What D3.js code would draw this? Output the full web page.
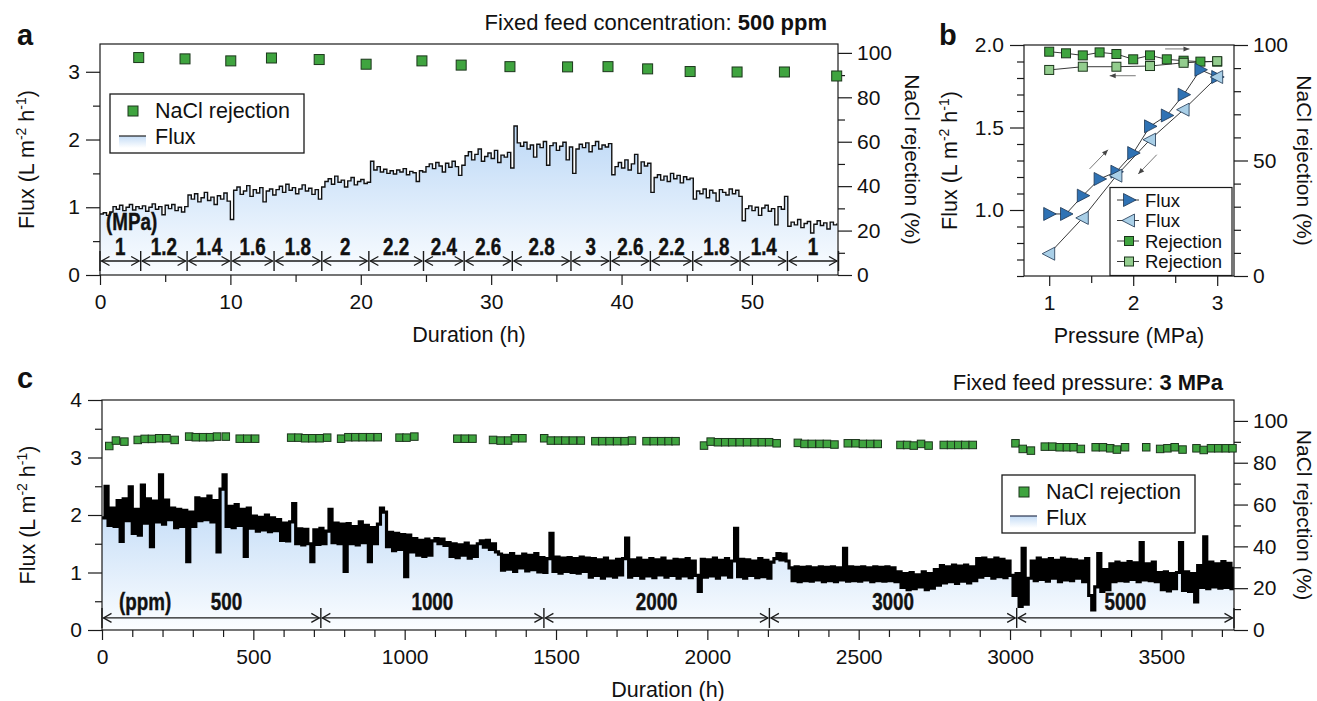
<!DOCTYPE html>
<html>
<head>
<meta charset="utf-8">
<script src="https://cdn.jsdelivr.net/npm/d3@7"></script>
<style>
  body { margin: 0; background: #fff; }
  svg text { font-family: "Liberation Sans", Arial, Helvetica, sans-serif; fill: #111; }
</style>
</head>
<body>
<svg id="chart" width="1317" height="701"></svg>
<script>
// ---------- panel a : fixed feed concentration 500 ppm ----------
const fluxAStep = 0.25; // h between readings
const fluxA = [
  0.90,0.92,0.88,0.93,1.01,0.97,1.03,0.95,1.00,1.04,0.96,1.01,0.98,
  1.02,0.94,1.00,1.05,0.97,1.01,0.89,1.03,0.98,1.04,0.95,1.00,0.93,1.01,
  1.18,1.12,1.20,1.08,1.14,1.22,1.10,1.15,1.04,1.17,1.12,1.21,1.09,0.82,
  1.25,1.30,1.19,1.24,1.32,1.16,1.26,1.21,1.29,1.08,1.24,1.27,1.18,
  1.26,1.31,1.22,1.34,1.25,1.29,1.20,1.27,1.33,1.24,1.28,1.19,1.26,1.12,1.30,
  1.38,1.42,1.34,1.46,1.37,1.40,1.30,1.39,1.44,1.33,1.38,1.41,1.35,1.37,
  1.68,1.55,1.60,1.52,1.56,1.50,1.54,1.49,1.55,1.52,1.57,1.48,1.53,1.51,1.38,1.54,1.52,
  1.60,1.64,1.57,1.66,1.61,1.52,1.65,1.59,1.68,1.60,1.47,1.62,
  1.76,1.82,1.70,1.78,1.86,1.68,1.75,1.80,1.72,1.84,1.66,1.77,1.74,1.81,1.58,
  2.20,1.95,1.90,1.96,1.86,1.92,1.74,1.93,1.88,1.97,1.62,1.91,1.95,1.84,1.90,1.96,1.70,1.89,
  1.50,1.86,1.93,1.88,1.95,1.82,1.91,1.97,1.86,1.92,1.89,1.94,
  1.48,1.60,1.66,1.58,1.70,1.55,1.64,1.78,1.50,1.67,1.61,1.65,
  1.22,1.44,1.48,1.40,1.46,1.38,1.50,1.42,1.47,1.36,1.45,1.41,1.43,
  1.12,1.24,1.20,1.27,1.14,1.25,1.21,1.09,1.26,1.22,1.18,1.27,1.20,1.25,1.16,
  0.80,0.98,1.02,0.95,1.00,0.88,0.99,1.03,0.94,0.98,0.74,1.01,0.97,1.16,
  0.72,0.78,0.74,0.82,0.70,0.76,0.79,0.62,0.75,0.80,0.73,0.77,0.68,0.78,0.74,0.76
];
const rejAHours = [2.97, 6.52, 10.03, 13.15, 16.81, 20.41, 24.69, 27.7, 31.44, 35.86, 38.96, 42.0, 45.26, 48.86, 52.49, 56.5];
const rejA = [97.9, 97.3, 96.4, 97.7, 97.0, 94.9, 96.4, 94.5, 93.8, 93.7, 93.8, 92.8, 91.6, 91.4, 91.4, 89.6];
const pressBounds = [0, 3.12, 6.68, 10.05, 13.35, 17.01, 20.62, 24.81, 27.93, 31.62, 36.12, 39.14, 42.21, 45.46, 49.09, 52.72, 56.64];
const pressLabels = ["1", "1.2", "1.4", "1.6", "1.8", "2", "2.2", "2.4", "2.6", "2.8", "3", "2.6", "2.2", "1.8", "1.4", "1"];
const ticksA = {
  xMajor: [0, 10, 20, 30, 40, 50], xMinor: [5, 15, 25, 35, 45, 55],
  yMajor: [0, 1, 2, 3], yMinor: [0.5, 1.5, 2.5],
  rMajor: [0, 20, 40, 60, 80, 100], rMinor: [10, 30, 50, 70, 90]
};

// ---------- panel b : pressure up / down ----------
const pressUp = [1, 1.2, 1.4, 1.6, 1.8, 2, 2.2, 2.4, 2.6, 2.8, 3];
const fluxUp = [0.976, 0.976, 1.087, 1.188, 1.232, 1.345, 1.507, 1.573, 1.699, 1.85, 1.806];
const rejUp = [97.1, 96.4, 95.5, 96.8, 96.1, 93.8, 95.5, 93.8, 93.2, 92.8, 92.8];
const pressDown = [3, 2.6, 2.2, 1.8, 1.4, 1];
const fluxDown = [1.806, 1.608, 1.426, 1.208, 0.952, 0.735];
const rejDown = [93.0, 92.3, 90.9, 90.6, 90.6, 89.2];
const ticksB = {
  xMajor: [1, 2, 3], xMinor: [1.5, 2.5],
  yMajor: [1.0, 1.5, 2.0], yMinor: [0.6, 0.7, 0.8, 0.9, 1.1, 1.2, 1.3, 1.4, 1.6, 1.7, 1.8, 1.9],
  rMajor: [0, 50, 100], rMinor: [10, 20, 30, 40, 60, 70, 80, 90]
};

// ---------- panel c : fixed feed pressure 3 MPa ----------
const fluxCStep = 10; // h between readings
const fluxC = [
  1.95,2.50,1.82,2.12,1.80,2.25,1.54,2.28,1.90,2.49,
  1.68,2.10,1.65,2.52,1.86,2.28,1.45,2.24,1.88,2.70,
  1.84,2.26,1.92,2.12,1.78,2.10,1.80,2.08,1.19,2.05,
  1.80,2.30,1.90,2.28,1.92,2.33,1.88,2.25,1.36,2.45,
  2.70,1.80,2.15,1.78,2.18,1.82,2.10,1.28,2.12,1.77,
  1.98,1.72,1.96,1.74,2.00,1.71,1.95,1.73,1.92,1.56,
  1.86,1.55,1.88,2.20,1.50,1.76,1.48,1.75,1.50,1.19,
  1.74,1.49,1.77,1.50,1.72,2.10,1.52,1.86,1.50,1.84,
  1.02,1.85,1.50,1.80,1.48,1.88,1.52,1.82,1.19,1.78,
  1.50,1.84,2.12,2.05,1.45,1.70,1.38,1.68,1.40,1.66,
  0.93,1.65,1.36,1.59,1.30,1.56,1.28,1.58,1.30,1.55,
  1.59,1.50,1.58,1.47,1.52,1.28,1.50,1.26,1.48,1.30,
  1.51,1.25,1.46,1.28,1.50,1.55,1.44,1.56,1.40,1.50,
  1.36,1.32,1.04,1.30,1.06,1.33,1.02,1.28,1.08,1.32,
  1.03,1.30,1.05,1.33,1.01,1.26,1.00,1.24,1.68,1.02,
  1.27,0.99,1.25,1.02,1.26,1.00,1.24,0.99,1.27,1.02,
  1.25,0.92,1.24,0.95,1.22,0.90,1.25,0.94,1.20,0.92,
  1.23,0.96,1.24,1.60,0.92,1.22,0.95,1.25,0.90,1.21,
  0.94,1.24,0.91,1.22,0.96,1.25,0.92,1.20,0.95,1.23,
  0.90,1.22,0.94,1.24,0.91,1.20,0.95,0.67,1.23,0.92,
  1.22,0.94,1.25,0.90,1.21,0.96,1.24,0.92,1.20,1.77,
  0.93,1.23,0.90,1.22,0.95,1.20,0.91,1.24,0.93,1.21,
  0.90,1.18,1.24,1.33,1.22,1.32,1.20,1.08,0.86,1.10,
  0.84,1.09,0.86,1.10,0.85,1.08,0.87,1.10,0.84,1.09,
  0.86,1.10,0.84,1.08,0.87,1.42,0.85,1.10,0.86,1.09,
  0.85,1.10,0.87,1.08,0.84,1.10,0.86,1.09,0.85,1.10,
  0.86,1.08,0.84,1.01,0.74,0.98,0.70,1.00,0.72,0.96,
  0.75,1.01,0.70,0.98,0.73,1.05,0.78,1.12,0.82,1.10,
  0.84,1.13,0.81,1.11,0.85,1.13,0.82,1.10,0.86,1.24,
  0.92,1.25,0.95,1.22,0.90,1.25,0.93,1.23,0.91,1.20,
  0.95,0.60,0.98,0.41,1.42,0.45,0.90,1.20,0.86,1.25,
  0.88,1.22,0.85,1.24,0.90,1.21,0.84,1.25,0.87,1.23,
  0.86,1.22,0.90,1.20,0.84,1.24,0.60,0.35,0.75,1.33,
  0.67,1.05,0.70,1.15,0.84,1.18,0.86,1.16,0.85,1.19,
  0.88,1.17,0.84,1.52,0.87,1.15,0.86,1.18,0.84,1.00,
  0.70,1.01,0.68,0.98,0.72,1.00,1.52,0.69,1.01,0.67,
  0.98,0.49,1.12,0.74,1.62,0.72,1.18,0.75,1.15,0.73,
  1.19,0.74,1.16,0.72,1.10
];
const rejCHours = [24, 46, 74, 118, 141, 165, 189, 213, 240, 288, 310, 334, 357, 380, 409, 455, 480, 506,
  625, 649, 671, 695, 719, 744, 790, 814, 837, 861, 886, 911, 983, 1006, 1032, 1174, 1199, 1224,
  1292, 1317, 1342, 1364, 1389, 1461, 1483, 1507, 1531, 1556, 1582, 1630, 1653, 1677, 1702, 1727, 1751,
  1799, 1823, 1848, 1872, 1895, 1989, 2011, 2035, 2059, 2082, 2107, 2131, 2156, 2180, 2204, 2229,
  2299, 2321, 2345, 2371, 2395, 2420, 2464, 2490, 2514, 2538, 2563, 2638, 2660, 2682, 2706, 2731,
  2781, 2805, 2829, 2852, 2877, 3018, 3042, 3069, 3115, 3140, 3164, 3188, 3210, 3234, 3283, 3307,
  3331, 3353, 3380, 3450, 3496, 3520, 3544, 3570, 3616, 3640, 3664, 3688, 3713, 3735];
const rejC = [88.0, 90.6, 90.1, 90.9, 91.4, 91.4, 91.7, 91.7, 90.9, 92.5, 92.2, 92.2, 92.2, 92.5, 92.5, 91.5, 91.5, 91.5,
  92.0, 92.0, 91.7, 91.7, 91.7, 92.0, 91.5, 92.2, 92.2, 92.2, 92.2, 92.2, 92.0, 92.0, 92.5, 91.5, 91.5, 91.5,
  90.9, 90.6, 90.6, 91.7, 91.7, 91.7, 90.6, 90.6, 90.6, 90.6, 90.6, 90.3, 90.3, 90.3, 90.3, 90.3, 90.6,
  90.3, 90.3, 90.3, 90.3, 90.3, 88.2, 90.1, 89.8, 89.8, 89.8, 89.8, 89.8, 89.8, 89.8, 89.8, 89.3,
  89.5, 89.0, 89.0, 89.0, 89.0, 88.7, 89.3, 89.3, 89.0, 89.0, 89.0, 88.5, 88.5, 88.2, 89.0, 88.2,
  88.5, 88.5, 88.5, 88.5, 88.5, 89.3, 86.6, 85.8, 87.7, 87.7, 87.4, 87.4, 87.4, 86.6, 87.4, 87.4,
  86.9, 86.3, 87.4, 87.4, 86.6, 86.9, 87.4, 86.3, 86.9, 86.1, 86.9, 86.9, 86.9, 86.9];
const concBounds = [0, 723, 1460, 2205, 3022, 3740];
const concLabels = ["500", "1000", "2000", "3000", "5000"];
const ticksC = {
  xMajor: [0, 500, 1000, 1500, 2000, 2500, 3000, 3500],
  xMinor: d3.range(100, 3800, 100).filter(v => v % 500 !== 0),
  yMajor: [0, 1, 2, 3, 4], yMinor: [0.5, 1.5, 2.5, 3.5],
  rMajor: [0, 20, 40, 60, 80, 100], rMinor: [10, 30, 50, 70, 90]
};

const GREEN = "#3fa43f", GREEN_LIGHT = "#93cd8e", BLUE = "#2f72b4", BLUE_LIGHT = "#a9cfe7";
const INK = "#1a1a1a";

const svg = d3.select("#chart");
const defs = svg.append("defs");

// scales
const xA = d3.scaleLinear().domain([0, 56.6]).range([100, 838]);
const yA = d3.scaleLinear().domain([0, 3.41]).range([275, 44]);
const yAR = d3.scaleLinear().domain([0, 104]).range([275, 44]);

const xB = d3.scaleLinear().domain([0.7, 3.2]).range([1024, 1234]);
const yB = d3.scaleLinear().domain([0.6, 2.0]).range([276, 45]);
const yBR = d3.scaleLinear().domain([0, 100]).range([276, 45]);

const xC = d3.scaleLinear().domain([0, 3740]).range([102, 1234]);
const yC = d3.scaleLinear().domain([0, 4]).range([630, 400]);
const yCR = d3.scaleLinear().domain([0, 110]).range([630, 400]);

// gradients, markers, clips
function fillGradient(id, yTop, yBottom) {
  const g = defs.append("linearGradient").attr("id", id).attr("gradientUnits", "userSpaceOnUse")
    .attr("x1", 0).attr("x2", 0).attr("y1", yTop).attr("y2", yBottom);
  g.append("stop").attr("offset", 0).attr("stop-color", "#bcd8f6");
  g.append("stop").attr("offset", 1).attr("stop-color", "#fbfdff");
}
fillGradient("gradA", yA(2.2), yA(0));
fillGradient("gradC", yC(2.5), yC(0));
const lg = defs.append("linearGradient").attr("id", "gradLeg").attr("x1", 0).attr("x2", 0).attr("y1", 0).attr("y2", 1);
lg.append("stop").attr("offset", 0).attr("stop-color", "#c4dcf6");
lg.append("stop").attr("offset", 1).attr("stop-color", "#ffffff");

defs.append("marker").attr("id", "chev").attr("viewBox", "-10 -6 12 12")
  .attr("refX", 0).attr("refY", 0).attr("markerWidth", 12).attr("markerHeight", 12)
  .attr("markerUnits", "userSpaceOnUse").attr("orient", "auto-start-reverse")
  .append("path").attr("d", "M-8,-4.5L0,0L-8,4.5").attr("fill", "none").attr("stroke", INK).attr("stroke-width", 1.3);
defs.append("marker").attr("id", "tip").attr("viewBox", "-7 -4 8 8")
  .attr("refX", 0).attr("refY", 0).attr("markerWidth", 8).attr("markerHeight", 8)
  .attr("markerUnits", "userSpaceOnUse").attr("orient", "auto")
  .append("path").attr("d", "M-6,-2.5L0,0L-6,2.5Z").attr("fill", "#444");

function clip(id, x, y) {
  defs.append("clipPath").attr("id", id).append("rect")
    .attr("x", x.range()[0]).attr("y", y.range()[1])
    .attr("width", x.range()[1] - x.range()[0]).attr("height", y.range()[0] - y.range()[1]);
}
clip("clipA", xA, yA);
clip("clipC", xC, yC);

function drawAxes(g, x, y, yR, t) {
  const [xl, xr] = x.range();
  const [yb, yt] = y.range();
  const tidy = sel => {
    sel.select(".domain").remove();
    sel.attr("font-size", 21).attr("font-family", null);
    sel.selectAll("line").attr("stroke", INK).attr("stroke-width", 1.2);
  };
  const put = (axis, tx, ty) => g.append("g").attr("transform", `translate(${tx},${ty})`).call(axis).call(tidy);
  put(d3.axisBottom(x).tickValues(t.xMinor).tickSize(7).tickFormat(""), 0, yb);
  put(d3.axisBottom(x).tickValues(t.xMajor).tickSize(10).tickPadding(9).tickFormat(t.xFmt || d3.format("d")), 0, yb);
  put(d3.axisLeft(y).tickValues(t.yMinor).tickSize(7).tickFormat(""), xl, 0);
  put(d3.axisLeft(y).tickValues(t.yMajor).tickSize(14).tickPadding(6).tickFormat(t.yFmt || d3.format("d")), xl, 0);
  put(d3.axisRight(yR).tickValues(t.rMinor).tickSize(7).tickFormat(""), xr, 0);
  put(d3.axisRight(yR).tickValues(t.rMajor).tickSize(14).tickPadding(5).tickFormat(d3.format("d")), xr, 0);
  g.append("rect").attr("x", xl).attr("y", yt).attr("width", xr - xl).attr("height", yb - yt)
    .attr("fill", "none").attr("stroke", INK).attr("stroke-width", 1.2);
}

function fluxTitle(sel) {
  sel.append("tspan").text("Flux (L m");
  sel.append("tspan").attr("dy", -8).attr("font-size", 14).text("-2");
  sel.append("tspan").attr("dy", 8).text(" h");
  sel.append("tspan").attr("dy", -8).attr("font-size", 14).text("-1");
  sel.append("tspan").attr("dy", 8).text(")");
}

function titles(g, x, y, leftX, rightX, xTitle) {
  const cy = (y.range()[0] + y.range()[1]) / 2;
  g.append("text").attr("transform", `translate(${leftX},${cy}) rotate(-90)`)
    .attr("text-anchor", "middle").attr("font-size", 21.5).call(fluxTitle);
  g.append("text").attr("transform", `translate(${rightX},${cy}) rotate(90)`)
    .attr("text-anchor", "middle").attr("font-size", 21).text("NaCl rejection (%)");
  g.append("text").attr("x", (x.range()[0] + x.range()[1]) / 2).attr("y", y.range()[0] + 67)
    .attr("text-anchor", "middle").attr("font-size", 21.5).text(xTitle);
}

// bold condensed label (bold sans squeezed horizontally)
function narrow(g, x, y, txt, anchor) {
  return g.append("text").attr("transform", `translate(${x},${y}) scale(0.8,1)`)
    .attr("text-anchor", anchor).attr("font-weight", "bold").attr("font-size", 23.5)
    .attr("stroke", "#111").attr("stroke-width", 0.4).text(txt);
}

function spans(g, x, yLine, bounds, labels, lift, firstShift) {
  bounds.forEach(b => g.append("line").attr("x1", x(b)).attr("x2", x(b))
    .attr("y1", yLine - 10).attr("y2", yLine + 10).attr("stroke", INK).attr("stroke-width", 1.4));
  labels.forEach((lab, i) => {
    const a = x(bounds[i]), b = x(bounds[i + 1]);
    g.append("line").attr("x1", a + 1.5).attr("x2", b - 1.5).attr("y1", yLine).attr("y2", yLine)
      .attr("stroke", INK).attr("stroke-width", 1.3)
      .attr("marker-start", "url(#chev)").attr("marker-end", "url(#chev)");
    narrow(g, (a + b) / 2 + (i === 0 ? firstShift : 0), yLine - lift, lab, "middle");
  });
}

function squares(g, xs, ys, x, y, size, fill) {
  g.selectAll(null).data(ys).join("rect")
    .attr("x", (d, i) => x(xs[i]) - size / 2).attr("y", d => y(d) - size / 2)
    .attr("width", size).attr("height", size)
    .attr("fill", fill).attr("stroke", "#1c361c").attr("stroke-width", 1);
}

// ================= panel a =================
const gA = svg.append("g");
const stepAreaA = d3.area().curve(d3.curveStepAfter)
  .x((d, i) => xA(i * fluxAStep)).y0(yA(0)).y1(d => yA(d));
const stepLineA = d3.line().curve(d3.curveStepAfter)
  .x((d, i) => xA(i * fluxAStep)).y(d => yA(d));
gA.append("path").datum(fluxA).attr("clip-path", "url(#clipA)").attr("fill", "url(#gradA)").attr("d", stepAreaA);
gA.append("path").datum(fluxA).attr("clip-path", "url(#clipA)").attr("fill", "none")
  .attr("stroke", "#111").attr("stroke-width", 1.4).attr("d", stepLineA);
drawAxes(gA, xA, yA, yAR, ticksA);
spans(gA, xA, yA(0.207), pressBounds, pressLabels, 6, 0);
narrow(gA, xA(0) + 6, yA(0.207) - 31, "(MPa)", "start");
squares(gA, rejAHours, rejA, xA, yAR, 10, GREEN);
titles(gA, xA, yA, 34, 905, "Duration (h)");

// legend a
gA.append("rect").attr("x", 110).attr("y", 94).attr("width", 194).attr("height", 59)
  .attr("fill", "#fff").attr("stroke", INK).attr("stroke-width", 1.3);
gA.append("rect").attr("x", 128).attr("y", 106).attr("width", 10).attr("height", 10)
  .attr("fill", GREEN).attr("stroke", "#1c361c");
gA.append("text").attr("x", 155).attr("y", 118).attr("font-size", 21.5).text("NaCl rejection");
gA.append("rect").attr("x", 119).attr("y", 136).attr("width", 27).attr("height", 12).attr("fill", "url(#gradLeg)");
gA.append("line").attr("x1", 119).attr("x2", 146).attr("y1", 136).attr("y2", 136).attr("stroke", "#222").attr("stroke-width", 1.2);
gA.append("text").attr("x", 155).attr("y", 144).attr("font-size", 21.5).text("Flux");

const tA = gA.append("text").attr("x", 827).attr("y", 30).attr("text-anchor", "end").attr("font-size", 22);
tA.append("tspan").text("Fixed feed concentration: ");
tA.append("tspan").attr("font-weight", "bold").text("500 ppm");
svg.append("text").attr("x", 17).attr("y", 45).attr("font-size", 29).attr("font-weight", "bold").text("a");

// ================= panel b =================
const gB = svg.append("g");
drawAxes(gB, xB, yB, yBR, Object.assign({ yFmt: d3.format(".1f") }, ticksB));
titles(gB, xB, yB, 957, 1297, "Pressure (MPa)");

const lineB = (xs, ys, y) => d3.line().x((d, i) => xB(xs[i])).y(d => y(d))(ys);
[[pressUp, rejUp, yBR], [pressDown, rejDown, yBR], [pressUp, fluxUp, yB], [pressDown, fluxDown, yB]]
  .forEach(([xs, ys, y]) => gB.append("path").attr("d", lineB(xs, ys, y))
    .attr("fill", "none").attr("stroke", "#222").attr("stroke-width", 0.9));

const triRight = "M-5.5,-6.5L7,0L-5.5,6.5Z";
const triLeft = "M5.5,-6.5L-7,0L5.5,6.5Z";
function triangles(xs, ys, path, fill) {
  gB.selectAll(null).data(ys).join("path").attr("d", path)
    .attr("transform", (d, i) => `translate(${xB(xs[i])},${yB(d)})`)
    .attr("fill", fill).attr("stroke", "#1d3550").attr("stroke-width", 0.8);
}
squares(gB, pressUp, rejUp, xB, yBR, 9, GREEN);
squares(gB, pressDown, rejDown, xB, yBR, 9, GREEN_LIGHT);
triangles(pressUp, fluxUp, triRight, BLUE);
triangles(pressDown, fluxDown, triLeft, BLUE_LIGHT);

// direction arrows
const arrowB = (x1, y1, x2, y2) => gB.append("line").attr("x1", x1).attr("y1", y1).attr("x2", x2).attr("y2", y2)
  .attr("stroke", "#555").attr("stroke-width", 0.8).attr("marker-end", "url(#tip)");
arrowB(xB(2.38), yBR(98.3), xB(2.67), yBR(98.3));
arrowB(xB(2.03), yBR(86.7), xB(1.72), yBR(86.7));
arrowB(xB(1.48), yB(1.249), xB(1.70), yB(1.365));
arrowB(xB(2.28), yB(1.335), xB(2.06), yB(1.218));

// legend b
gB.append("rect").attr("x", 1110).attr("y", 187.5).attr("width", 122).attr("height", 88)
  .attr("fill", "#fff").attr("stroke", INK).attr("stroke-width", 1.2);
const legB = [
  { label: "Flux", kind: "tri", path: triRight, fill: BLUE },
  { label: "Flux", kind: "tri", path: triLeft, fill: BLUE_LIGHT },
  { label: "Rejection", kind: "sq", fill: GREEN },
  { label: "Rejection", kind: "sq", fill: GREEN_LIGHT }
];
legB.forEach((e, i) => {
  const cy = 200 + i * 20.5;
  gB.append("line").attr("x1", 1117).attr("x2", 1139).attr("y1", cy).attr("y2", cy).attr("stroke", "#222").attr("stroke-width", 0.9);
  if (e.kind === "tri") {
    gB.append("path").attr("d", e.path).attr("transform", `translate(1129,${cy})`)
      .attr("fill", e.fill).attr("stroke", "#1d3550").attr("stroke-width", 0.8);
  } else {
    gB.append("rect").attr("x", 1124.5).attr("y", cy - 4.5).attr("width", 9).attr("height", 9)
      .attr("fill", e.fill).attr("stroke", "#1c361c");
  }
  gB.append("text").attr("x", 1145).attr("y", cy + 6.5).attr("font-size", 18.5).text(e.label);
});
svg.append("text").attr("x", 939).attr("y", 45).attr("font-size", 29).attr("font-weight", "bold").text("b");

// ================= panel c =================
const gC = svg.append("g");
const stepAreaC = d3.area().curve(d3.curveStepAfter)
  .x((d, i) => xC(i * fluxCStep)).y0(yC(0)).y1(d => yC(d));
const stepLineC = d3.line().curve(d3.curveStepAfter)
  .x((d, i) => xC(i * fluxCStep)).y(d => yC(d));
gC.append("path").datum(fluxC).attr("clip-path", "url(#clipC)").attr("fill", "url(#gradC)").attr("d", stepAreaC);
gC.append("path").datum(fluxC).attr("clip-path", "url(#clipC)").attr("fill", "none")
  .attr("stroke", "#000").attr("stroke-width", 3.2).attr("d", stepLineC);
drawAxes(gC, xC, yC, yCR, ticksC);
spans(gC, xC, yC(0.21), concBounds, concLabels, 8, 15);
narrow(gC, xC(0) + 17, yC(0.21) - 8, "(ppm)", "start");
squares(gC, rejCHours, rejC, xC, yCR, 7.5, GREEN);
titles(gC, xC, yC, 35, 1297, "Duration (h)");

// legend c
gC.append("rect").attr("x", 1002).attr("y", 475).attr("width", 193).attr("height", 58)
  .attr("fill", "#fff").attr("stroke", INK).attr("stroke-width", 1.3);
gC.append("rect").attr("x", 1019).attr("y", 487).attr("width", 10).attr("height", 10)
  .attr("fill", GREEN).attr("stroke", "#1c361c");
gC.append("text").attr("x", 1046).attr("y", 498.5).attr("font-size", 21.5).text("NaCl rejection");
gC.append("rect").attr("x", 1010).attr("y", 516).attr("width", 27).attr("height", 12).attr("fill", "url(#gradLeg)");
gC.append("line").attr("x1", 1010).attr("x2", 1037).attr("y1", 516).attr("y2", 516).attr("stroke", "#2b3550").attr("stroke-width", 1.2);
gC.append("text").attr("x", 1046).attr("y", 524.5).attr("font-size", 21.5).text("Flux");

const tC = gC.append("text").attr("x", 1223).attr("y", 390).attr("text-anchor", "end").attr("font-size", 22);
tC.append("tspan").text("Fixed feed pressure: ");
tC.append("tspan").attr("font-weight", "bold").text("3 MPa");
svg.append("text").attr("x", 17).attr("y", 388).attr("font-size", 29).attr("font-weight", "bold").text("c");
</script>
</body>
</html>
